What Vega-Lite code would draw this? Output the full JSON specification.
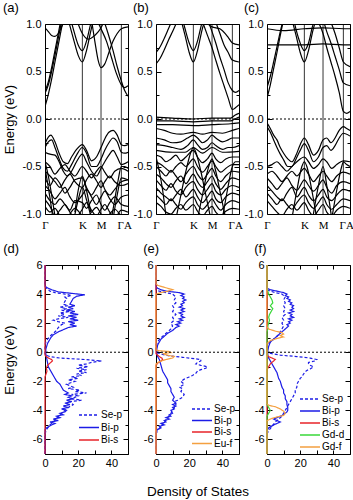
{
"$schema":"https://vega.github.io/schema/vega-lite/v6.json",
"background":"white",
"padding":{"left":2,"top":1,"right":0,"bottom":2},
"config":{
 "font":"Liberation Sans",
 "view":{"stroke":"black","strokeWidth":1},
 "axis":{"grid":false,"domain":false,"labelFont":"Liberation Sans","labelFontSize":11,"labelColor":"black","titleFont":"Liberation Sans","titleFontSize":13,"titleFontWeight":"normal","titleColor":"black","tickColor":"black","labelFlush":false,"labelOverlap":false},
 "title":{"font":"Liberation Sans","fontSize":13,"fontWeight":"normal","anchor":"start","offset":3,"color":"black"},
 "legend":{"title":null,"orient":"none","symbolType":"M-2,0L2,0","symbolSize":100,"symbolStrokeWidth":1.5,"labelFontSize":10,"labelFont":"Liberation Sans","labelColor":"black","rowPadding":1,"padding":0,"labelOffset":6}
},
"datasets":{
"ba":[
{"b":1,"k":0,"e":0.13},{"b":1,"k":0.04,"e":0.26},{"b":1,"k":0.08,"e":0.42},{"b":1,"k":0.12,"e":0.6},{"b":1,"k":0.16,"e":0.78},{"b":1,"k":0.2,"e":0.96},{"b":1,"k":0.24,"e":1.12},
{"b":2,"k":0,"e":0.27},{"b":2,"k":0.04,"e":0.36},{"b":2,"k":0.08,"e":0.5},{"b":2,"k":0.12,"e":0.67},{"b":2,"k":0.16,"e":0.85},{"b":2,"k":0.2,"e":1.03},
{"b":3,"k":0,"e":0.29},{"b":3,"k":0.04,"e":0.39},{"b":3,"k":0.08,"e":0.54},{"b":3,"k":0.12,"e":0.72},{"b":3,"k":0.16,"e":0.9},{"b":3,"k":0.2,"e":1.08},
{"b":4,"k":0,"e":0.96},{"b":4,"k":0.04,"e":0.92},{"b":4,"k":0.08,"e":0.88},{"b":4,"k":0.12,"e":0.87},{"b":4,"k":0.16,"e":0.9},{"b":4,"k":0.2,"e":0.97},{"b":4,"k":0.24,"e":1.06},
{"b":5,"k":0.25,"e":1.15},{"b":5,"k":0.3,"e":0.98},{"b":5,"k":0.35,"e":0.82},{"b":5,"k":0.4,"e":0.67},{"b":5,"k":0.45,"e":0.6},{"b":5,"k":0.5,"e":0.72},{"b":5,"k":0.55,"e":0.92},{"b":5,"k":0.6,"e":1.1},
{"b":6,"k":0.3,"e":1.08},{"b":6,"k":0.35,"e":0.92},{"b":6,"k":0.4,"e":0.78},{"b":6,"k":0.45,"e":0.72},{"b":6,"k":0.5,"e":0.82},{"b":6,"k":0.55,"e":1.0},{"b":6,"k":0.6,"e":1.15},
{"b":7,"k":0.55,"e":1.1},{"b":7,"k":0.6,"e":0.82},{"b":7,"k":0.64,"e":0.62},{"b":7,"k":0.675,"e":0.54},{"b":7,"k":0.72,"e":0.58},{"b":7,"k":0.77,"e":0.7},{"b":7,"k":0.82,"e":0.82},{"b":7,"k":0.87,"e":0.9},{"b":7,"k":0.92,"e":0.95},{"b":7,"k":1,"e":0.97},
{"b":8,"k":0.62,"e":1.05},{"b":8,"k":0.68,"e":0.94},{"b":8,"k":0.74,"e":0.82},{"b":8,"k":0.8,"e":0.65},{"b":8,"k":0.86,"e":0.48},{"b":8,"k":0.92,"e":0.36},{"b":8,"k":0.96,"e":0.33},{"b":8,"k":1,"e":0.35},
{"b":9,"k":0.7,"e":1.06},{"b":9,"k":0.76,"e":0.9},{"b":9,"k":0.82,"e":0.72},{"b":9,"k":0.87,"e":0.55},{"b":9,"k":0.92,"e":0.4},{"b":9,"k":0.96,"e":0.3},{"b":9,"k":1,"e":0.24},
{"b":10,"k":0.36,"e":1.1},{"b":10,"k":0.45,"e":0.9},{"b":10,"k":0.52,"e":0.84},{"b":10,"k":0.6,"e":0.88},{"b":10,"k":0.675,"e":0.96},{"b":10,"k":0.72,"e":1.05},
{"b":20,"k":0,"e":-0.26},{"b":20,"k":0.04,"e":-0.19},{"b":20,"k":0.07,"e":-0.17},{"b":20,"k":0.12,"e":-0.24},{"b":20,"k":0.17,"e":-0.36},{"b":20,"k":0.22,"e":-0.45},{"b":20,"k":0.27,"e":-0.47},{"b":20,"k":0.32,"e":-0.4},{"b":20,"k":0.38,"e":-0.32},{"b":20,"k":0.45,"e":-0.27},{"b":20,"k":0.5,"e":-0.33},{"b":20,"k":0.56,"e":-0.44},{"b":20,"k":0.62,"e":-0.4},{"b":20,"k":0.675,"e":-0.3},{"b":20,"k":0.72,"e":-0.21},{"b":20,"k":0.77,"e":-0.14},{"b":20,"k":0.82,"e":-0.12},{"b":20,"k":0.87,"e":-0.17},{"b":20,"k":0.92,"e":-0.27},{"b":20,"k":0.96,"e":-0.28},{"b":20,"k":1,"e":-0.27},
{"b":21,"k":0,"e":-0.3},{"b":21,"k":0.04,"e":-0.24},{"b":21,"k":0.08,"e":-0.22},{"b":21,"k":0.12,"e":-0.3},{"b":21,"k":0.17,"e":-0.42},{"b":21,"k":0.22,"e":-0.52},{"b":21,"k":0.27,"e":-0.55},{"b":21,"k":0.32,"e":-0.48},{"b":21,"k":0.38,"e":-0.38},{"b":21,"k":0.45,"e":-0.3},{"b":21,"k":0.5,"e":-0.36},{"b":21,"k":0.56,"e":-0.5},{"b":21,"k":0.62,"e":-0.5},{"b":21,"k":0.675,"e":-0.42},{"b":21,"k":0.72,"e":-0.33},{"b":21,"k":0.77,"e":-0.25},{"b":21,"k":0.82,"e":-0.2},{"b":21,"k":0.87,"e":-0.24},{"b":21,"k":0.92,"e":-0.35},{"b":21,"k":0.96,"e":-0.36},{"b":21,"k":1,"e":-0.35},
{"b":22,"k":0,"e":-0.35},{"b":22,"k":0.06,"e":-0.37},{"b":22,"k":0.12,"e":-0.38},{"b":22,"k":0.17,"e":-0.45},{"b":22,"k":0.22,"e":-0.55},{"b":22,"k":0.27,"e":-0.6},{"b":22,"k":0.32,"e":-0.55},{"b":22,"k":0.38,"e":-0.45},{"b":22,"k":0.45,"e":-0.37},{"b":22,"k":0.5,"e":-0.45},{"b":22,"k":0.56,"e":-0.55},{"b":22,"k":0.62,"e":-0.6},{"b":22,"k":0.675,"e":-0.52},{"b":22,"k":0.72,"e":-0.45},{"b":22,"k":0.77,"e":-0.38},{"b":22,"k":0.82,"e":-0.33},{"b":22,"k":0.87,"e":-0.4},{"b":22,"k":0.92,"e":-0.48},{"b":22,"k":1,"e":-0.45},
{"b":31,"k":0,"e":-0.45},{"b":31,"k":0.06,"e":-0.5},{"b":31,"k":0.12,"e":-0.58},{"b":31,"k":0.18,"e":-0.52},{"b":31,"k":0.24,"e":-0.48},{"b":31,"k":0.3,"e":-0.55},{"b":31,"k":0.36,"e":-0.6},{"b":31,"k":0.45,"e":-0.5},{"b":31,"k":0.5,"e":-0.55},{"b":31,"k":0.56,"e":-0.62},{"b":31,"k":0.62,"e":-0.55},{"b":31,"k":0.675,"e":-0.5},{"b":31,"k":0.72,"e":-0.56},{"b":31,"k":0.78,"e":-0.62},{"b":31,"k":0.84,"e":-0.55},{"b":31,"k":0.92,"e":-0.52},{"b":31,"k":1,"e":-0.55},
{"b":32,"k":0,"e":-0.55},{"b":32,"k":0.06,"e":-0.6},{"b":32,"k":0.12,"e":-0.66},{"b":32,"k":0.18,"e":-0.72},{"b":32,"k":0.24,"e":-0.64},{"b":32,"k":0.3,"e":-0.58},{"b":32,"k":0.36,"e":-0.66},{"b":32,"k":0.45,"e":-0.72},{"b":32,"k":0.5,"e":-0.64},{"b":32,"k":0.56,"e":-0.58},{"b":32,"k":0.62,"e":-0.65},{"b":32,"k":0.675,"e":-0.72},{"b":32,"k":0.72,"e":-0.66},{"b":32,"k":0.78,"e":-0.6},{"b":32,"k":0.84,"e":-0.66},{"b":32,"k":0.92,"e":-0.7},{"b":32,"k":1,"e":-0.68},
{"b":33,"k":0,"e":-0.62},{"b":33,"k":0.06,"e":-0.7},{"b":33,"k":0.12,"e":-0.62},{"b":33,"k":0.18,"e":-0.68},{"b":33,"k":0.24,"e":-0.78},{"b":33,"k":0.3,"e":-0.72},{"b":33,"k":0.36,"e":-0.64},{"b":33,"k":0.45,"e":-0.62},{"b":33,"k":0.5,"e":-0.72},{"b":33,"k":0.56,"e":-0.8},{"b":33,"k":0.62,"e":-0.72},{"b":33,"k":0.675,"e":-0.65},{"b":33,"k":0.72,"e":-0.74},{"b":33,"k":0.78,"e":-0.8},{"b":33,"k":0.84,"e":-0.74},{"b":33,"k":0.92,"e":-0.66},{"b":33,"k":1,"e":-0.64},
{"b":34,"k":0,"e":-0.7},{"b":34,"k":0.06,"e":-0.76},{"b":34,"k":0.12,"e":-0.84},{"b":34,"k":0.18,"e":-0.78},{"b":34,"k":0.24,"e":-0.72},{"b":34,"k":0.3,"e":-0.82},{"b":34,"k":0.36,"e":-0.88},{"b":34,"k":0.45,"e":-0.8},{"b":34,"k":0.5,"e":-0.74},{"b":34,"k":0.56,"e":-0.82},{"b":34,"k":0.62,"e":-0.9},{"b":34,"k":0.675,"e":-0.82},{"b":34,"k":0.72,"e":-0.76},{"b":34,"k":0.78,"e":-0.84},{"b":34,"k":0.84,"e":-0.9},{"b":34,"k":0.92,"e":-0.82},{"b":34,"k":1,"e":-0.8},
{"b":35,"k":0,"e":-0.78},{"b":35,"k":0.06,"e":-0.86},{"b":35,"k":0.12,"e":-0.9},{"b":35,"k":0.18,"e":-0.84},{"b":35,"k":0.24,"e":-0.9},{"b":35,"k":0.3,"e":-0.96},{"b":35,"k":0.36,"e":-0.86},{"b":35,"k":0.45,"e":-0.88},{"b":35,"k":0.5,"e":-0.94},{"b":35,"k":0.56,"e":-0.86},{"b":35,"k":0.62,"e":-0.8},{"b":35,"k":0.675,"e":-0.9},{"b":35,"k":0.72,"e":-0.96},{"b":35,"k":0.78,"e":-0.88},{"b":35,"k":0.84,"e":-0.82},{"b":35,"k":0.92,"e":-0.9},{"b":35,"k":1,"e":-0.92},
{"b":36,"k":0,"e":-0.85},{"b":36,"k":0.06,"e":-0.92},{"b":36,"k":0.12,"e":-1.02},{"b":36,"k":0.18,"e":-0.96},{"b":36,"k":0.24,"e":-0.9},{"b":36,"k":0.3,"e":-0.98},{"b":36,"k":0.36,"e":-1.04},{"b":36,"k":0.45,"e":-0.95},{"b":36,"k":0.5,"e":-0.88},{"b":36,"k":0.56,"e":-0.96},{"b":36,"k":0.62,"e":-1.02},{"b":36,"k":0.675,"e":-0.95},{"b":36,"k":0.72,"e":-0.9},{"b":36,"k":0.78,"e":-0.98},{"b":36,"k":0.84,"e":-1.04},{"b":36,"k":0.92,"e":-0.96},{"b":36,"k":1,"e":-0.98},
{"b":37,"k":0,"e":-0.92},{"b":37,"k":0.06,"e":-0.98},{"b":37,"k":0.12,"e":-0.94},{"b":37,"k":0.18,"e":-1.02},{"b":37,"k":0.24,"e":-1.08},{"b":37,"k":0.3,"e":-1.0},{"b":37,"k":0.36,"e":-0.94},{"b":37,"k":0.45,"e":-1.02},{"b":37,"k":0.5,"e":-1.05},{"b":37,"k":0.56,"e":-0.98},{"b":37,"k":0.62,"e":-0.93},{"b":37,"k":0.675,"e":-1.0},{"b":37,"k":0.72,"e":-1.06},{"b":37,"k":0.78,"e":-1.0},{"b":37,"k":0.84,"e":-0.95},{"b":37,"k":0.92,"e":-1.02},{"b":37,"k":1,"e":-1.05},
{"b":38,"k":0,"e":-0.45},{"b":38,"k":0.04,"e":-0.6},{"b":38,"k":0.08,"e":-0.8},{"b":38,"k":0.12,"e":-1.02},
{"b":39,"k":0,"e":-0.52},{"b":39,"k":0.04,"e":-0.72},{"b":39,"k":0.08,"e":-0.95},{"b":39,"k":0.1,"e":-1.08},
{"b":40,"k":0.8,"e":-1.05},{"b":40,"k":0.84,"e":-0.85},{"b":40,"k":0.88,"e":-0.65},{"b":40,"k":0.92,"e":-0.5},{"b":40,"k":0.96,"e":-0.5},{"b":40,"k":1,"e":-0.52},
{"b":41,"k":0.82,"e":-1.05},{"b":41,"k":0.87,"e":-0.8},{"b":41,"k":0.92,"e":-0.62},{"b":41,"k":1,"e":-0.64},
{"b":42,"k":0.36,"e":-0.98},{"b":42,"k":0.4,"e":-0.75},{"b":42,"k":0.45,"e":-0.6},{"b":42,"k":0.5,"e":-0.75},{"b":42,"k":0.55,"e":-0.98},
{"b":43,"k":0.35,"e":-1.05},{"b":43,"k":0.4,"e":-0.85},{"b":43,"k":0.45,"e":-0.72},{"b":43,"k":0.5,"e":-0.85},{"b":43,"k":0.56,"e":-1.05}
],
"bb":[
{"b":1,"k":0,"e":0.58},{"b":1,"k":0.05,"e":0.64},{"b":1,"k":0.1,"e":0.73},{"b":1,"k":0.15,"e":0.83},{"b":1,"k":0.2,"e":0.92},{"b":1,"k":0.25,"e":1.02},
{"b":2,"k":0,"e":0.7},{"b":2,"k":0.05,"e":0.76},{"b":2,"k":0.1,"e":0.85},{"b":2,"k":0.15,"e":0.95},{"b":2,"k":0.2,"e":1.05},
{"b":3,"k":0.3,"e":1.05},{"b":3,"k":0.35,"e":0.88},{"b":3,"k":0.4,"e":0.7},{"b":3,"k":0.45,"e":0.6},{"b":3,"k":0.5,"e":0.72},{"b":3,"k":0.55,"e":0.92},{"b":3,"k":0.6,"e":1.08},
{"b":4,"k":0.3,"e":1.12},{"b":4,"k":0.35,"e":0.95},{"b":4,"k":0.4,"e":0.8},{"b":4,"k":0.45,"e":0.72},{"b":4,"k":0.5,"e":0.82},{"b":4,"k":0.55,"e":1.0},{"b":4,"k":0.6,"e":1.12},
{"b":5,"k":0.55,"e":1.05},{"b":5,"k":0.62,"e":0.88},{"b":5,"k":0.675,"e":0.75},{"b":5,"k":0.72,"e":0.62},{"b":5,"k":0.77,"e":0.48},{"b":5,"k":0.82,"e":0.35},{"b":5,"k":0.87,"e":0.22},{"b":5,"k":0.92,"e":0.1},{"b":5,"k":0.96,"e":0.12},{"b":5,"k":1,"e":0.15},
{"b":6,"k":0.62,"e":1.05},{"b":6,"k":0.675,"e":0.92},{"b":6,"k":0.72,"e":0.8},{"b":6,"k":0.77,"e":0.65},{"b":6,"k":0.82,"e":0.52},{"b":6,"k":0.87,"e":0.38},{"b":6,"k":0.92,"e":0.3},{"b":6,"k":0.96,"e":0.28},{"b":6,"k":1,"e":0.3},
{"b":7,"k":0.72,"e":1.02},{"b":7,"k":0.77,"e":0.9},{"b":7,"k":0.82,"e":0.78},{"b":7,"k":0.87,"e":0.7},{"b":7,"k":0.92,"e":0.62},{"b":7,"k":1,"e":0.6},
{"b":8,"k":0.6,"e":1.02},{"b":8,"k":0.675,"e":0.97},{"b":8,"k":0.77,"e":0.95},{"b":8,"k":0.87,"e":0.86},{"b":8,"k":0.92,"e":0.8},{"b":8,"k":1,"e":0.78},
{"b":10,"k":0,"e":0.02},{"b":10,"k":0.2,"e":0.01},{"b":10,"k":0.45,"e":0.0},{"b":10,"k":0.675,"e":0.01},{"b":10,"k":0.9,"e":0.01},{"b":10,"k":0.95,"e":0.04},{"b":10,"k":1,"e":0.06},
{"b":11,"k":0,"e":-0.02},{"b":11,"k":0.2,"e":-0.02},{"b":11,"k":0.45,"e":-0.03},{"b":11,"k":0.675,"e":-0.02},{"b":11,"k":0.9,"e":-0.02},{"b":11,"k":0.95,"e":0.0},{"b":11,"k":1,"e":0.02},
{"b":12,"k":0,"e":-0.06},{"b":12,"k":0.2,"e":-0.06},{"b":12,"k":0.45,"e":-0.07},{"b":12,"k":0.675,"e":-0.06},{"b":12,"k":0.9,"e":-0.05},{"b":12,"k":1,"e":-0.04},
{"b":13,"k":0,"e":-0.1},{"b":13,"k":0.1,"e":-0.12},{"b":13,"k":0.2,"e":-0.15},{"b":13,"k":0.3,"e":-0.16},{"b":13,"k":0.45,"e":-0.14},{"b":13,"k":0.56,"e":-0.16},{"b":13,"k":0.675,"e":-0.14},{"b":13,"k":0.8,"e":-0.15},{"b":13,"k":0.92,"e":-0.12},{"b":13,"k":1,"e":-0.1},
{"b":14,"k":0,"e":-0.2},{"b":14,"k":0.1,"e":-0.22},{"b":14,"k":0.2,"e":-0.25},{"b":14,"k":0.3,"e":-0.24},{"b":14,"k":0.38,"e":-0.2},{"b":14,"k":0.45,"e":-0.17},{"b":14,"k":0.5,"e":-0.2},{"b":14,"k":0.56,"e":-0.25},{"b":14,"k":0.62,"e":-0.22},{"b":14,"k":0.675,"e":-0.17},{"b":14,"k":0.72,"e":-0.2},{"b":14,"k":0.8,"e":-0.24},{"b":14,"k":0.87,"e":-0.22},{"b":14,"k":0.92,"e":-0.2},{"b":14,"k":1,"e":-0.2},
{"b":15,"k":0,"e":-0.27},{"b":15,"k":0.1,"e":-0.28},{"b":15,"k":0.2,"e":-0.3},{"b":15,"k":0.3,"e":-0.32},{"b":15,"k":0.38,"e":-0.28},{"b":15,"k":0.45,"e":-0.22},{"b":15,"k":0.5,"e":-0.27},{"b":15,"k":0.56,"e":-0.32},{"b":15,"k":0.62,"e":-0.3},{"b":15,"k":0.675,"e":-0.25},{"b":15,"k":0.72,"e":-0.28},{"b":15,"k":0.8,"e":-0.32},{"b":15,"k":0.87,"e":-0.3},{"b":15,"k":0.92,"e":-0.3},{"b":15,"k":1,"e":-0.28},
{"b":16,"k":0,"e":-0.33},{"b":16,"k":0.2,"e":-0.35},{"b":16,"k":0.35,"e":-0.35},{"b":16,"k":0.45,"e":-0.3},{"b":16,"k":0.56,"e":-0.36},{"b":16,"k":0.675,"e":-0.3},{"b":16,"k":0.8,"e":-0.35},{"b":16,"k":1,"e":-0.34},
{"b":31,"k":0,"e":-0.38},{"b":31,"k":0.06,"e":-0.4},{"b":31,"k":0.12,"e":-0.45},{"b":31,"k":0.18,"e":-0.42},{"b":31,"k":0.24,"e":-0.38},{"b":31,"k":0.3,"e":-0.44},{"b":31,"k":0.36,"e":-0.4},{"b":31,"k":0.45,"e":-0.33},{"b":31,"k":0.5,"e":-0.4},{"b":31,"k":0.56,"e":-0.46},{"b":31,"k":0.62,"e":-0.42},{"b":31,"k":0.675,"e":-0.36},{"b":31,"k":0.72,"e":-0.42},{"b":31,"k":0.78,"e":-0.46},{"b":31,"k":0.84,"e":-0.42},{"b":31,"k":0.92,"e":-0.4},{"b":31,"k":1,"e":-0.4},
{"b":32,"k":0,"e":-0.45},{"b":32,"k":0.06,"e":-0.48},{"b":32,"k":0.12,"e":-0.52},{"b":32,"k":0.18,"e":-0.56},{"b":32,"k":0.24,"e":-0.5},{"b":32,"k":0.3,"e":-0.46},{"b":32,"k":0.36,"e":-0.5},{"b":32,"k":0.45,"e":-0.42},{"b":32,"k":0.5,"e":-0.5},{"b":32,"k":0.56,"e":-0.56},{"b":32,"k":0.62,"e":-0.5},{"b":32,"k":0.675,"e":-0.44},{"b":32,"k":0.72,"e":-0.5},{"b":32,"k":0.78,"e":-0.56},{"b":32,"k":0.84,"e":-0.52},{"b":32,"k":0.92,"e":-0.48},{"b":32,"k":1,"e":-0.48},
{"b":33,"k":0,"e":-0.5},{"b":33,"k":0.06,"e":-0.55},{"b":33,"k":0.12,"e":-0.6},{"b":33,"k":0.18,"e":-0.54},{"b":33,"k":0.24,"e":-0.6},{"b":33,"k":0.3,"e":-0.66},{"b":33,"k":0.36,"e":-0.58},{"b":33,"k":0.45,"e":-0.5},{"b":33,"k":0.5,"e":-0.58},{"b":33,"k":0.56,"e":-0.64},{"b":33,"k":0.62,"e":-0.58},{"b":33,"k":0.675,"e":-0.52},{"b":33,"k":0.72,"e":-0.6},{"b":33,"k":0.78,"e":-0.66},{"b":33,"k":0.84,"e":-0.6},{"b":33,"k":0.92,"e":-0.55},{"b":33,"k":1,"e":-0.56},
{"b":34,"k":0,"e":-0.58},{"b":34,"k":0.06,"e":-0.62},{"b":34,"k":0.12,"e":-0.68},{"b":34,"k":0.18,"e":-0.72},{"b":34,"k":0.24,"e":-0.65},{"b":34,"k":0.3,"e":-0.6},{"b":34,"k":0.36,"e":-0.68},{"b":34,"k":0.45,"e":-0.58},{"b":34,"k":0.5,"e":-0.66},{"b":34,"k":0.56,"e":-0.72},{"b":34,"k":0.62,"e":-0.66},{"b":34,"k":0.675,"e":-0.6},{"b":34,"k":0.72,"e":-0.68},{"b":34,"k":0.78,"e":-0.74},{"b":34,"k":0.84,"e":-0.68},{"b":34,"k":0.92,"e":-0.62},{"b":34,"k":1,"e":-0.64},
{"b":35,"k":0,"e":-0.64},{"b":35,"k":0.06,"e":-0.7},{"b":35,"k":0.12,"e":-0.75},{"b":35,"k":0.18,"e":-0.68},{"b":35,"k":0.24,"e":-0.76},{"b":35,"k":0.3,"e":-0.8},{"b":35,"k":0.36,"e":-0.72},{"b":35,"k":0.45,"e":-0.66},{"b":35,"k":0.5,"e":-0.74},{"b":35,"k":0.56,"e":-0.8},{"b":35,"k":0.62,"e":-0.74},{"b":35,"k":0.675,"e":-0.68},{"b":35,"k":0.72,"e":-0.76},{"b":35,"k":0.78,"e":-0.8},{"b":35,"k":0.84,"e":-0.74},{"b":35,"k":0.92,"e":-0.7},{"b":35,"k":1,"e":-0.72},
{"b":36,"k":0,"e":-0.72},{"b":36,"k":0.06,"e":-0.78},{"b":36,"k":0.12,"e":-0.82},{"b":36,"k":0.18,"e":-0.86},{"b":36,"k":0.24,"e":-0.8},{"b":36,"k":0.3,"e":-0.74},{"b":36,"k":0.36,"e":-0.82},{"b":36,"k":0.45,"e":-0.74},{"b":36,"k":0.5,"e":-0.82},{"b":36,"k":0.56,"e":-0.88},{"b":36,"k":0.62,"e":-0.82},{"b":36,"k":0.675,"e":-0.76},{"b":36,"k":0.72,"e":-0.84},{"b":36,"k":0.78,"e":-0.88},{"b":36,"k":0.84,"e":-0.82},{"b":36,"k":0.92,"e":-0.78},{"b":36,"k":1,"e":-0.8},
{"b":37,"k":0,"e":-0.8},{"b":37,"k":0.06,"e":-0.85},{"b":37,"k":0.12,"e":-0.9},{"b":37,"k":0.18,"e":-0.84},{"b":37,"k":0.24,"e":-0.9},{"b":37,"k":0.3,"e":-0.95},{"b":37,"k":0.36,"e":-0.88},{"b":37,"k":0.45,"e":-0.82},{"b":37,"k":0.5,"e":-0.9},{"b":37,"k":0.56,"e":-0.95},{"b":37,"k":0.62,"e":-0.9},{"b":37,"k":0.675,"e":-0.84},{"b":37,"k":0.72,"e":-0.9},{"b":37,"k":0.78,"e":-0.96},{"b":37,"k":0.84,"e":-0.9},{"b":37,"k":0.92,"e":-0.86},{"b":37,"k":1,"e":-0.88},
{"b":38,"k":0,"e":-0.88},{"b":38,"k":0.06,"e":-0.92},{"b":38,"k":0.12,"e":-0.98},{"b":38,"k":0.18,"e":-1.0},{"b":38,"k":0.24,"e":-0.94},{"b":38,"k":0.3,"e":-0.9},{"b":38,"k":0.36,"e":-0.96},{"b":38,"k":0.45,"e":-0.9},{"b":38,"k":0.5,"e":-0.97},{"b":38,"k":0.56,"e":-1.02},{"b":38,"k":0.62,"e":-0.96},{"b":38,"k":0.675,"e":-0.92},{"b":38,"k":0.72,"e":-0.98},{"b":38,"k":0.78,"e":-1.02},{"b":38,"k":0.84,"e":-0.97},{"b":38,"k":0.92,"e":-0.94},{"b":38,"k":1,"e":-0.95},
{"b":40,"k":0.24,"e":-1.05},{"b":40,"k":0.3,"e":-0.8},{"b":40,"k":0.36,"e":-0.55},{"b":40,"k":0.42,"e":-0.35},{"b":40,"k":0.45,"e":-0.3},{"b":40,"k":0.48,"e":-0.35},{"b":40,"k":0.54,"e":-0.55},{"b":40,"k":0.6,"e":-0.8},{"b":40,"k":0.66,"e":-1.05},
{"b":41,"k":0.5,"e":-1.05},{"b":41,"k":0.56,"e":-0.8},{"b":41,"k":0.62,"e":-0.55},{"b":41,"k":0.675,"e":-0.42},{"b":41,"k":0.72,"e":-0.55},{"b":41,"k":0.78,"e":-0.8},{"b":41,"k":0.84,"e":-1.05},
{"b":42,"k":0,"e":-0.4},{"b":42,"k":0.04,"e":-0.55},{"b":42,"k":0.08,"e":-0.75},{"b":42,"k":0.12,"e":-1.02},
{"b":43,"k":0.8,"e":-1.05},{"b":43,"k":0.86,"e":-0.75},{"b":43,"k":0.92,"e":-0.5},{"b":43,"k":0.96,"e":-0.45},{"b":43,"k":1,"e":-0.45}
],
"bc":[
{"b":1,"k":0,"e":0.33},{"b":1,"k":0.04,"e":0.45},{"b":1,"k":0.08,"e":0.6},{"b":1,"k":0.12,"e":0.76},{"b":1,"k":0.16,"e":0.92},{"b":1,"k":0.2,"e":1.06},
{"b":2,"k":0,"e":0.22},{"b":2,"k":0.04,"e":0.36},{"b":2,"k":0.08,"e":0.53},{"b":2,"k":0.12,"e":0.7},{"b":2,"k":0.16,"e":0.88},{"b":2,"k":0.2,"e":1.05},
{"b":3,"k":0,"e":0.78},{"b":3,"k":0.2,"e":0.78},{"b":3,"k":0.45,"e":0.78},{"b":3,"k":0.675,"e":0.79},{"b":3,"k":0.92,"e":0.78},{"b":3,"k":1,"e":0.78},
{"b":4,"k":0,"e":0.95},{"b":4,"k":0.2,"e":0.93},{"b":4,"k":0.45,"e":0.95},{"b":4,"k":0.675,"e":0.96},{"b":4,"k":0.92,"e":0.95},{"b":4,"k":1,"e":0.95},
{"b":5,"k":0.3,"e":1.05},{"b":5,"k":0.35,"e":0.88},{"b":5,"k":0.4,"e":0.7},{"b":5,"k":0.45,"e":0.6},{"b":5,"k":0.5,"e":0.72},{"b":5,"k":0.55,"e":0.92},{"b":5,"k":0.6,"e":1.08},
{"b":6,"k":0.32,"e":1.05},{"b":6,"k":0.38,"e":0.85},{"b":6,"k":0.45,"e":0.72},{"b":6,"k":0.5,"e":0.8},{"b":6,"k":0.55,"e":0.98},{"b":6,"k":0.6,"e":1.1},
{"b":7,"k":0.6,"e":1.05},{"b":7,"k":0.675,"e":0.9},{"b":7,"k":0.72,"e":0.75},{"b":7,"k":0.77,"e":0.6},{"b":7,"k":0.82,"e":0.45},{"b":7,"k":0.87,"e":0.28},{"b":7,"k":0.92,"e":0.08},{"b":7,"k":0.96,"e":0.06},{"b":7,"k":1,"e":0.08},
{"b":8,"k":0.675,"e":1.05},{"b":8,"k":0.72,"e":0.92},{"b":8,"k":0.77,"e":0.8},{"b":8,"k":0.82,"e":0.66},{"b":8,"k":0.87,"e":0.52},{"b":8,"k":0.92,"e":0.38},{"b":8,"k":1,"e":0.35},
{"b":9,"k":0.77,"e":1.02},{"b":9,"k":0.82,"e":0.9},{"b":9,"k":0.87,"e":0.75},{"b":9,"k":0.92,"e":0.6},{"b":9,"k":1,"e":0.55},
{"b":20,"k":0,"e":-0.04},{"b":20,"k":0.04,"e":-0.1},{"b":20,"k":0.08,"e":-0.17},{"b":20,"k":0.12,"e":-0.22},{"b":20,"k":0.16,"e":-0.3},{"b":20,"k":0.2,"e":-0.36},{"b":20,"k":0.25,"e":-0.42},{"b":20,"k":0.3,"e":-0.45},{"b":20,"k":0.35,"e":-0.38},{"b":20,"k":0.4,"e":-0.27},{"b":20,"k":0.45,"e":-0.2},{"b":20,"k":0.5,"e":-0.27},{"b":20,"k":0.56,"e":-0.38},{"b":20,"k":0.62,"e":-0.33},{"b":20,"k":0.675,"e":-0.22},{"b":20,"k":0.72,"e":-0.2},{"b":20,"k":0.77,"e":-0.25},{"b":20,"k":0.82,"e":-0.2},{"b":20,"k":0.87,"e":-0.12},{"b":20,"k":0.92,"e":-0.08},{"b":20,"k":0.96,"e":-0.1},{"b":20,"k":1,"e":-0.12},
{"b":21,"k":0,"e":-0.08},{"b":21,"k":0.04,"e":-0.14},{"b":21,"k":0.08,"e":-0.22},{"b":21,"k":0.12,"e":-0.3},{"b":21,"k":0.16,"e":-0.37},{"b":21,"k":0.2,"e":-0.43},{"b":21,"k":0.25,"e":-0.5},{"b":21,"k":0.3,"e":-0.5},{"b":21,"k":0.35,"e":-0.42},{"b":21,"k":0.4,"e":-0.33},{"b":21,"k":0.45,"e":-0.26},{"b":21,"k":0.5,"e":-0.33},{"b":21,"k":0.56,"e":-0.45},{"b":21,"k":0.62,"e":-0.4},{"b":21,"k":0.675,"e":-0.3},{"b":21,"k":0.72,"e":-0.28},{"b":21,"k":0.77,"e":-0.33},{"b":21,"k":0.82,"e":-0.28},{"b":21,"k":0.87,"e":-0.2},{"b":21,"k":0.92,"e":-0.15},{"b":21,"k":1,"e":-0.18},
{"b":31,"k":0,"e":-0.5},{"b":31,"k":0.06,"e":-0.48},{"b":31,"k":0.12,"e":-0.45},{"b":31,"k":0.18,"e":-0.5},{"b":31,"k":0.24,"e":-0.55},{"b":31,"k":0.3,"e":-0.5},{"b":31,"k":0.36,"e":-0.45},{"b":31,"k":0.45,"e":-0.4},{"b":31,"k":0.5,"e":-0.45},{"b":31,"k":0.56,"e":-0.52},{"b":31,"k":0.62,"e":-0.48},{"b":31,"k":0.675,"e":-0.42},{"b":31,"k":0.72,"e":-0.45},{"b":31,"k":0.78,"e":-0.52},{"b":31,"k":0.84,"e":-0.48},{"b":31,"k":0.92,"e":-0.44},{"b":31,"k":1,"e":-0.45},
{"b":32,"k":0,"e":-0.58},{"b":32,"k":0.06,"e":-0.55},{"b":32,"k":0.12,"e":-0.6},{"b":32,"k":0.18,"e":-0.66},{"b":32,"k":0.24,"e":-0.6},{"b":32,"k":0.3,"e":-0.55},{"b":32,"k":0.36,"e":-0.6},{"b":32,"k":0.45,"e":-0.52},{"b":32,"k":0.5,"e":-0.58},{"b":32,"k":0.56,"e":-0.66},{"b":32,"k":0.62,"e":-0.6},{"b":32,"k":0.675,"e":-0.55},{"b":32,"k":0.72,"e":-0.6},{"b":32,"k":0.78,"e":-0.66},{"b":32,"k":0.84,"e":-0.6},{"b":32,"k":0.92,"e":-0.56},{"b":32,"k":1,"e":-0.58},
{"b":33,"k":0,"e":-0.62},{"b":33,"k":0.06,"e":-0.68},{"b":33,"k":0.12,"e":-0.74},{"b":33,"k":0.18,"e":-0.68},{"b":33,"k":0.24,"e":-0.62},{"b":33,"k":0.3,"e":-0.7},{"b":33,"k":0.36,"e":-0.75},{"b":33,"k":0.45,"e":-0.64},{"b":33,"k":0.5,"e":-0.7},{"b":33,"k":0.56,"e":-0.76},{"b":33,"k":0.62,"e":-0.7},{"b":33,"k":0.675,"e":-0.64},{"b":33,"k":0.72,"e":-0.72},{"b":33,"k":0.78,"e":-0.78},{"b":33,"k":0.84,"e":-0.7},{"b":33,"k":0.92,"e":-0.66},{"b":33,"k":1,"e":-0.68},
{"b":34,"k":0,"e":-0.7},{"b":34,"k":0.06,"e":-0.76},{"b":34,"k":0.12,"e":-0.82},{"b":34,"k":0.18,"e":-0.86},{"b":34,"k":0.24,"e":-0.78},{"b":34,"k":0.3,"e":-0.72},{"b":34,"k":0.36,"e":-0.82},{"b":34,"k":0.45,"e":-0.72},{"b":34,"k":0.5,"e":-0.8},{"b":34,"k":0.56,"e":-0.86},{"b":34,"k":0.62,"e":-0.8},{"b":34,"k":0.675,"e":-0.74},{"b":34,"k":0.72,"e":-0.82},{"b":34,"k":0.78,"e":-0.86},{"b":34,"k":0.84,"e":-0.8},{"b":34,"k":0.92,"e":-0.74},{"b":34,"k":1,"e":-0.76},
{"b":35,"k":0,"e":-0.78},{"b":35,"k":0.06,"e":-0.84},{"b":35,"k":0.12,"e":-0.9},{"b":35,"k":0.18,"e":-0.84},{"b":35,"k":0.24,"e":-0.9},{"b":35,"k":0.3,"e":-0.95},{"b":35,"k":0.36,"e":-0.88},{"b":35,"k":0.45,"e":-0.8},{"b":35,"k":0.5,"e":-0.88},{"b":35,"k":0.56,"e":-0.94},{"b":35,"k":0.62,"e":-0.88},{"b":35,"k":0.675,"e":-0.82},{"b":35,"k":0.72,"e":-0.9},{"b":35,"k":0.78,"e":-0.95},{"b":35,"k":0.84,"e":-0.9},{"b":35,"k":0.92,"e":-0.84},{"b":35,"k":1,"e":-0.86},
{"b":36,"k":0,"e":-0.86},{"b":36,"k":0.06,"e":-0.92},{"b":36,"k":0.12,"e":-0.98},{"b":36,"k":0.18,"e":-1.02},{"b":36,"k":0.24,"e":-0.95},{"b":36,"k":0.3,"e":-0.9},{"b":36,"k":0.36,"e":-0.96},{"b":36,"k":0.45,"e":-0.88},{"b":36,"k":0.5,"e":-0.96},{"b":36,"k":0.56,"e":-1.02},{"b":36,"k":0.62,"e":-0.96},{"b":36,"k":0.675,"e":-0.9},{"b":36,"k":0.72,"e":-0.98},{"b":36,"k":0.78,"e":-1.02},{"b":36,"k":0.84,"e":-0.96},{"b":36,"k":0.92,"e":-0.92},{"b":36,"k":1,"e":-0.94},
{"b":37,"k":0.3,"e":-1.05},{"b":37,"k":0.36,"e":-0.75},{"b":37,"k":0.42,"e":-0.5},{"b":37,"k":0.45,"e":-0.45},{"b":37,"k":0.48,"e":-0.5},{"b":37,"k":0.54,"e":-0.75},{"b":37,"k":0.6,"e":-1.05},
{"b":38,"k":0.55,"e":-1.05},{"b":38,"k":0.62,"e":-0.7},{"b":38,"k":0.675,"e":-0.5},{"b":38,"k":0.72,"e":-0.7},{"b":38,"k":0.78,"e":-1.05},
{"b":39,"k":0.78,"e":-1.05},{"b":39,"k":0.84,"e":-0.75},{"b":39,"k":0.9,"e":-0.5},{"b":39,"k":0.92,"e":-0.45},{"b":39,"k":0.96,"e":-0.48},{"b":39,"k":1,"e":-0.5}
],
"dd":[
{"s":"Se-p","e":-7,"d":0},{"s":"Se-p","e":-5.6,"d":0},{"s":"Se-p","e":-5.3,"d":1},{"s":"Se-p","e":-5.0,"d":3},{"s":"Se-p","e":-4.7,"d":6},{"s":"Se-p","e":-4.4,"d":8},{"s":"Se-p","e":-4.2,"d":10},{"s":"Se-p","e":-4.0,"d":12},{"s":"Se-p","e":-3.8,"d":14},{"s":"Se-p","e":-3.6,"d":17},{"s":"Se-p","e":-3.4,"d":15},{"s":"Se-p","e":-3.3,"d":22},{"s":"Se-p","e":-3.2,"d":16},{"s":"Se-p","e":-3.0,"d":20},{"s":"Se-p","e":-2.9,"d":16},{"s":"Se-p","e":-2.8,"d":25},{"s":"Se-p","e":-2.7,"d":18},{"s":"Se-p","e":-2.6,"d":21},{"s":"Se-p","e":-2.5,"d":14},{"s":"Se-p","e":-2.4,"d":17},{"s":"Se-p","e":-2.2,"d":13},{"s":"Se-p","e":-2.0,"d":18},{"s":"Se-p","e":-1.9,"d":14},{"s":"Se-p","e":-1.8,"d":20},{"s":"Se-p","e":-1.7,"d":16},{"s":"Se-p","e":-1.6,"d":22},{"s":"Se-p","e":-1.5,"d":19},{"s":"Se-p","e":-1.4,"d":25},{"s":"Se-p","e":-1.3,"d":20},{"s":"Se-p","e":-1.2,"d":25},{"s":"Se-p","e":-1.1,"d":19},{"s":"Se-p","e":-1.0,"d":26},{"s":"Se-p","e":-0.9,"d":20},{"s":"Se-p","e":-0.8,"d":25},{"s":"Se-p","e":-0.7,"d":28},{"s":"Se-p","e":-0.6,"d":34},{"s":"Se-p","e":-0.5,"d":24},{"s":"Se-p","e":-0.4,"d":9},{"s":"Se-p","e":-0.3,"d":3},{"s":"Se-p","e":-0.2,"d":0.5},{"s":"Se-p","e":-0.1,"d":0},{"s":"Se-p","e":0.5,"d":0},{"s":"Se-p","e":0.7,"d":0.5},{"s":"Se-p","e":0.9,"d":1.5},{"s":"Se-p","e":1.1,"d":3},{"s":"Se-p","e":1.3,"d":5},{"s":"Se-p","e":1.5,"d":7},{"s":"Se-p","e":1.7,"d":8},{"s":"Se-p","e":1.9,"d":10},{"s":"Se-p","e":2.0,"d":12},{"s":"Se-p","e":2.1,"d":8},{"s":"Se-p","e":2.2,"d":5},{"s":"Se-p","e":2.3,"d":8},{"s":"Se-p","e":2.4,"d":14},{"s":"Se-p","e":2.5,"d":8},{"s":"Se-p","e":2.6,"d":12},{"s":"Se-p","e":2.7,"d":9},{"s":"Se-p","e":2.8,"d":15},{"s":"Se-p","e":2.9,"d":10},{"s":"Se-p","e":3.0,"d":13},{"s":"Se-p","e":3.1,"d":9},{"s":"Se-p","e":3.2,"d":14},{"s":"Se-p","e":3.3,"d":11},{"s":"Se-p","e":3.5,"d":12},{"s":"Se-p","e":3.7,"d":13},{"s":"Se-p","e":3.8,"d":12},{"s":"Se-p","e":3.9,"d":16},{"s":"Se-p","e":4.0,"d":12},{"s":"Se-p","e":4.1,"d":6},{"s":"Se-p","e":4.2,"d":3},{"s":"Se-p","e":4.4,"d":1},{"s":"Se-p","e":4.5,"d":0},{"s":"Se-p","e":6,"d":0},
{"s":"Bi-p","e":-7,"d":0},{"s":"Bi-p","e":-5.3,"d":0},{"s":"Bi-p","e":-5.2,"d":1},{"s":"Bi-p","e":-5.0,"d":4},{"s":"Bi-p","e":-4.9,"d":6},{"s":"Bi-p","e":-4.8,"d":3},{"s":"Bi-p","e":-4.7,"d":8},{"s":"Bi-p","e":-4.6,"d":5},{"s":"Bi-p","e":-4.5,"d":9},{"s":"Bi-p","e":-4.4,"d":7},{"s":"Bi-p","e":-4.3,"d":11},{"s":"Bi-p","e":-4.2,"d":9},{"s":"Bi-p","e":-4.1,"d":12},{"s":"Bi-p","e":-4.0,"d":13},{"s":"Bi-p","e":-3.9,"d":10},{"s":"Bi-p","e":-3.8,"d":14},{"s":"Bi-p","e":-3.7,"d":11},{"s":"Bi-p","e":-3.6,"d":15},{"s":"Bi-p","e":-3.5,"d":12},{"s":"Bi-p","e":-3.4,"d":16},{"s":"Bi-p","e":-3.3,"d":13},{"s":"Bi-p","e":-3.2,"d":17},{"s":"Bi-p","e":-3.1,"d":14},{"s":"Bi-p","e":-3.0,"d":16},{"s":"Bi-p","e":-2.9,"d":12},{"s":"Bi-p","e":-2.8,"d":14},{"s":"Bi-p","e":-2.6,"d":11},{"s":"Bi-p","e":-2.4,"d":10},{"s":"Bi-p","e":-2.2,"d":9},{"s":"Bi-p","e":-2.0,"d":7},{"s":"Bi-p","e":-1.8,"d":6},{"s":"Bi-p","e":-1.6,"d":5},{"s":"Bi-p","e":-1.4,"d":4},{"s":"Bi-p","e":-1.2,"d":3},{"s":"Bi-p","e":-1.0,"d":2},{"s":"Bi-p","e":-0.7,"d":1.5},{"s":"Bi-p","e":-0.4,"d":1},{"s":"Bi-p","e":-0.1,"d":0.5},{"s":"Bi-p","e":0.2,"d":0.5},{"s":"Bi-p","e":0.4,"d":1},{"s":"Bi-p","e":0.6,"d":1.5},{"s":"Bi-p","e":0.8,"d":2.5},{"s":"Bi-p","e":1.0,"d":3.5},{"s":"Bi-p","e":1.2,"d":5},{"s":"Bi-p","e":1.4,"d":8},{"s":"Bi-p","e":1.6,"d":12},{"s":"Bi-p","e":1.7,"d":14},{"s":"Bi-p","e":1.8,"d":19},{"s":"Bi-p","e":1.9,"d":15},{"s":"Bi-p","e":2.0,"d":18},{"s":"Bi-p","e":2.1,"d":14},{"s":"Bi-p","e":2.2,"d":20},{"s":"Bi-p","e":2.3,"d":15},{"s":"Bi-p","e":2.4,"d":19},{"s":"Bi-p","e":2.5,"d":14},{"s":"Bi-p","e":2.6,"d":20},{"s":"Bi-p","e":2.7,"d":15},{"s":"Bi-p","e":2.8,"d":18},{"s":"Bi-p","e":2.9,"d":13},{"s":"Bi-p","e":3.0,"d":17},{"s":"Bi-p","e":3.1,"d":14},{"s":"Bi-p","e":3.2,"d":18},{"s":"Bi-p","e":3.3,"d":15},{"s":"Bi-p","e":3.5,"d":16},{"s":"Bi-p","e":3.7,"d":17},{"s":"Bi-p","e":3.85,"d":19},{"s":"Bi-p","e":3.95,"d":24},{"s":"Bi-p","e":4.05,"d":16},{"s":"Bi-p","e":4.15,"d":8},{"s":"Bi-p","e":4.3,"d":4},{"s":"Bi-p","e":4.45,"d":1},{"s":"Bi-p","e":4.55,"d":0},{"s":"Bi-p","e":6,"d":0},
{"s":"Bi-s","e":-7,"d":0},{"s":"Bi-s","e":-1.7,"d":0},{"s":"Bi-s","e":-1.5,"d":0.6},{"s":"Bi-s","e":-1.3,"d":1.2},{"s":"Bi-s","e":-1.1,"d":0.8},{"s":"Bi-s","e":-0.9,"d":1.5},{"s":"Bi-s","e":-0.8,"d":2.5},{"s":"Bi-s","e":-0.7,"d":3.5},{"s":"Bi-s","e":-0.6,"d":4.5},{"s":"Bi-s","e":-0.5,"d":4},{"s":"Bi-s","e":-0.4,"d":2},{"s":"Bi-s","e":-0.3,"d":0.8},{"s":"Bi-s","e":-0.2,"d":0},{"s":"Bi-s","e":6,"d":0}
],
"de":[
{"s":"Se-p","e":-7,"d":0},{"s":"Se-p","e":-5.6,"d":0},{"s":"Se-p","e":-5.4,"d":1},{"s":"Se-p","e":-5.1,"d":3},{"s":"Se-p","e":-4.8,"d":5},{"s":"Se-p","e":-4.5,"d":7},{"s":"Se-p","e":-4.2,"d":9},{"s":"Se-p","e":-4.0,"d":10},{"s":"Se-p","e":-3.8,"d":11},{"s":"Se-p","e":-3.6,"d":12},{"s":"Se-p","e":-3.4,"d":11},{"s":"Se-p","e":-3.3,"d":13},{"s":"Se-p","e":-3.1,"d":16},{"s":"Se-p","e":-2.9,"d":17},{"s":"Se-p","e":-2.7,"d":15},{"s":"Se-p","e":-2.5,"d":16},{"s":"Se-p","e":-2.4,"d":14},{"s":"Se-p","e":-2.2,"d":17},{"s":"Se-p","e":-2.0,"d":15},{"s":"Se-p","e":-1.85,"d":17},{"s":"Se-p","e":-1.7,"d":20},{"s":"Se-p","e":-1.6,"d":22},{"s":"Se-p","e":-1.45,"d":24},{"s":"Se-p","e":-1.3,"d":25},{"s":"Se-p","e":-1.2,"d":27},{"s":"Se-p","e":-1.1,"d":30},{"s":"Se-p","e":-1.0,"d":31},{"s":"Se-p","e":-0.9,"d":27},{"s":"Se-p","e":-0.8,"d":24},{"s":"Se-p","e":-0.7,"d":25},{"s":"Se-p","e":-0.6,"d":27},{"s":"Se-p","e":-0.5,"d":27},{"s":"Se-p","e":-0.4,"d":20},{"s":"Se-p","e":-0.35,"d":16},{"s":"Se-p","e":-0.25,"d":8},{"s":"Se-p","e":-0.15,"d":4},{"s":"Se-p","e":-0.05,"d":1},{"s":"Se-p","e":0.1,"d":0},{"s":"Se-p","e":0.5,"d":0},{"s":"Se-p","e":0.8,"d":1.5},{"s":"Se-p","e":1.0,"d":3},{"s":"Se-p","e":1.2,"d":5},{"s":"Se-p","e":1.4,"d":7},{"s":"Se-p","e":1.6,"d":9},{"s":"Se-p","e":1.8,"d":10},{"s":"Se-p","e":2.0,"d":9},{"s":"Se-p","e":2.2,"d":11},{"s":"Se-p","e":2.4,"d":10},{"s":"Se-p","e":2.6,"d":12},{"s":"Se-p","e":2.8,"d":10},{"s":"Se-p","e":3.0,"d":11},{"s":"Se-p","e":3.2,"d":10},{"s":"Se-p","e":3.4,"d":12},{"s":"Se-p","e":3.6,"d":11},{"s":"Se-p","e":3.8,"d":12},{"s":"Se-p","e":4.0,"d":10},{"s":"Se-p","e":4.1,"d":6},{"s":"Se-p","e":4.2,"d":2},{"s":"Se-p","e":4.3,"d":0},{"s":"Se-p","e":6,"d":0},
{"s":"Bi-p","e":-7,"d":0},{"s":"Bi-p","e":-5.5,"d":0},{"s":"Bi-p","e":-5.3,"d":1},{"s":"Bi-p","e":-5.2,"d":3},{"s":"Bi-p","e":-5.1,"d":2},{"s":"Bi-p","e":-5.0,"d":5},{"s":"Bi-p","e":-4.9,"d":3},{"s":"Bi-p","e":-4.8,"d":6},{"s":"Bi-p","e":-4.7,"d":5},{"s":"Bi-p","e":-4.6,"d":8},{"s":"Bi-p","e":-4.5,"d":6},{"s":"Bi-p","e":-4.4,"d":9},{"s":"Bi-p","e":-4.3,"d":8},{"s":"Bi-p","e":-4.2,"d":10},{"s":"Bi-p","e":-4.0,"d":9},{"s":"Bi-p","e":-3.9,"d":11},{"s":"Bi-p","e":-3.8,"d":10},{"s":"Bi-p","e":-3.7,"d":12},{"s":"Bi-p","e":-3.6,"d":10},{"s":"Bi-p","e":-3.5,"d":12},{"s":"Bi-p","e":-3.4,"d":11},{"s":"Bi-p","e":-3.3,"d":10},{"s":"Bi-p","e":-3.1,"d":11},{"s":"Bi-p","e":-2.9,"d":10},{"s":"Bi-p","e":-2.7,"d":9},{"s":"Bi-p","e":-2.5,"d":9},{"s":"Bi-p","e":-2.3,"d":8},{"s":"Bi-p","e":-2.1,"d":7},{"s":"Bi-p","e":-1.9,"d":7},{"s":"Bi-p","e":-1.7,"d":6},{"s":"Bi-p","e":-1.5,"d":5},{"s":"Bi-p","e":-1.3,"d":4},{"s":"Bi-p","e":-1.1,"d":3.5},{"s":"Bi-p","e":-0.9,"d":3},{"s":"Bi-p","e":-0.7,"d":2.5},{"s":"Bi-p","e":-0.5,"d":2},{"s":"Bi-p","e":-0.3,"d":1},{"s":"Bi-p","e":-0.1,"d":0.5},{"s":"Bi-p","e":0.2,"d":0.5},{"s":"Bi-p","e":0.5,"d":1},{"s":"Bi-p","e":0.7,"d":2},{"s":"Bi-p","e":0.9,"d":3},{"s":"Bi-p","e":1.1,"d":5},{"s":"Bi-p","e":1.3,"d":7},{"s":"Bi-p","e":1.5,"d":10},{"s":"Bi-p","e":1.7,"d":12},{"s":"Bi-p","e":1.8,"d":14},{"s":"Bi-p","e":1.9,"d":12},{"s":"Bi-p","e":2.0,"d":15},{"s":"Bi-p","e":2.1,"d":13},{"s":"Bi-p","e":2.2,"d":16},{"s":"Bi-p","e":2.3,"d":14},{"s":"Bi-p","e":2.4,"d":17},{"s":"Bi-p","e":2.5,"d":15},{"s":"Bi-p","e":2.6,"d":16},{"s":"Bi-p","e":2.7,"d":14},{"s":"Bi-p","e":2.8,"d":17},{"s":"Bi-p","e":2.9,"d":15},{"s":"Bi-p","e":3.0,"d":17},{"s":"Bi-p","e":3.1,"d":14},{"s":"Bi-p","e":3.2,"d":16},{"s":"Bi-p","e":3.3,"d":15},{"s":"Bi-p","e":3.4,"d":17},{"s":"Bi-p","e":3.5,"d":16},{"s":"Bi-p","e":3.6,"d":18},{"s":"Bi-p","e":3.7,"d":16},{"s":"Bi-p","e":3.8,"d":17},{"s":"Bi-p","e":3.9,"d":15},{"s":"Bi-p","e":4.0,"d":17},{"s":"Bi-p","e":4.1,"d":14},{"s":"Bi-p","e":4.2,"d":6},{"s":"Bi-p","e":4.3,"d":3},{"s":"Bi-p","e":4.4,"d":1},{"s":"Bi-p","e":4.5,"d":0},{"s":"Bi-p","e":6,"d":0},
{"s":"Bi-s","e":-7,"d":0},{"s":"Bi-s","e":-0.9,"d":0},{"s":"Bi-s","e":-0.75,"d":1},{"s":"Bi-s","e":-0.6,"d":3},{"s":"Bi-s","e":-0.5,"d":4},{"s":"Bi-s","e":-0.4,"d":3.5},{"s":"Bi-s","e":-0.3,"d":2},{"s":"Bi-s","e":-0.2,"d":1},{"s":"Bi-s","e":-0.1,"d":0},{"s":"Bi-s","e":6,"d":0},
{"s":"Eu-f","e":-7,"d":0},{"s":"Eu-f","e":-0.8,"d":0},{"s":"Eu-f","e":-0.65,"d":2},{"s":"Eu-f","e":-0.5,"d":6},{"s":"Eu-f","e":-0.4,"d":10},{"s":"Eu-f","e":-0.3,"d":11},{"s":"Eu-f","e":-0.2,"d":7},{"s":"Eu-f","e":-0.1,"d":4},{"s":"Eu-f","e":-0.02,"d":9},{"s":"Eu-f","e":0.05,"d":8},{"s":"Eu-f","e":0.1,"d":2},{"s":"Eu-f","e":0.15,"d":0},{"s":"Eu-f","e":4.0,"d":0},{"s":"Eu-f","e":4.1,"d":3},{"s":"Eu-f","e":4.2,"d":7},{"s":"Eu-f","e":4.3,"d":10},{"s":"Eu-f","e":4.4,"d":7},{"s":"Eu-f","e":4.5,"d":4},{"s":"Eu-f","e":4.6,"d":1},{"s":"Eu-f","e":4.7,"d":0},{"s":"Eu-f","e":6,"d":0}
],
"df":[
{"s":"Se-p","e":-7,"d":0},{"s":"Se-p","e":-5.6,"d":0},{"s":"Se-p","e":-5.4,"d":1},{"s":"Se-p","e":-5.1,"d":3},{"s":"Se-p","e":-4.8,"d":5},{"s":"Se-p","e":-4.6,"d":7},{"s":"Se-p","e":-4.4,"d":9},{"s":"Se-p","e":-4.2,"d":10},{"s":"Se-p","e":-4.0,"d":11},{"s":"Se-p","e":-3.8,"d":12},{"s":"Se-p","e":-3.6,"d":13},{"s":"Se-p","e":-3.4,"d":14},{"s":"Se-p","e":-3.2,"d":15},{"s":"Se-p","e":-3.0,"d":16},{"s":"Se-p","e":-2.8,"d":17},{"s":"Se-p","e":-2.6,"d":17},{"s":"Se-p","e":-2.4,"d":18},{"s":"Se-p","e":-2.2,"d":18},{"s":"Se-p","e":-2.0,"d":19},{"s":"Se-p","e":-1.8,"d":20},{"s":"Se-p","e":-1.7,"d":21},{"s":"Se-p","e":-1.5,"d":22},{"s":"Se-p","e":-1.35,"d":23},{"s":"Se-p","e":-1.25,"d":24},{"s":"Se-p","e":-1.15,"d":26},{"s":"Se-p","e":-1.0,"d":28},{"s":"Se-p","e":-0.9,"d":26},{"s":"Se-p","e":-0.8,"d":25},{"s":"Se-p","e":-0.7,"d":25},{"s":"Se-p","e":-0.6,"d":29},{"s":"Se-p","e":-0.5,"d":30},{"s":"Se-p","e":-0.4,"d":26},{"s":"Se-p","e":-0.3,"d":18},{"s":"Se-p","e":-0.2,"d":8},{"s":"Se-p","e":-0.1,"d":3},{"s":"Se-p","e":0,"d":0},{"s":"Se-p","e":0.4,"d":0},{"s":"Se-p","e":0.6,"d":1},{"s":"Se-p","e":0.8,"d":3},{"s":"Se-p","e":1.0,"d":5},{"s":"Se-p","e":1.2,"d":7},{"s":"Se-p","e":1.4,"d":8},{"s":"Se-p","e":1.6,"d":9},{"s":"Se-p","e":1.8,"d":10},{"s":"Se-p","e":2.0,"d":9},{"s":"Se-p","e":2.2,"d":10},{"s":"Se-p","e":2.4,"d":9},{"s":"Se-p","e":2.6,"d":11},{"s":"Se-p","e":2.8,"d":10},{"s":"Se-p","e":3.0,"d":11},{"s":"Se-p","e":3.2,"d":10},{"s":"Se-p","e":3.4,"d":11},{"s":"Se-p","e":3.6,"d":10},{"s":"Se-p","e":3.8,"d":11},{"s":"Se-p","e":4.0,"d":9},{"s":"Se-p","e":4.1,"d":5},{"s":"Se-p","e":4.2,"d":2},{"s":"Se-p","e":4.3,"d":0},{"s":"Se-p","e":6,"d":0},
{"s":"Bi-p","e":-7,"d":0},{"s":"Bi-p","e":-5.4,"d":0},{"s":"Bi-p","e":-5.2,"d":1},{"s":"Bi-p","e":-5.0,"d":4},{"s":"Bi-p","e":-4.9,"d":6},{"s":"Bi-p","e":-4.8,"d":8},{"s":"Bi-p","e":-4.7,"d":6},{"s":"Bi-p","e":-4.6,"d":4},{"s":"Bi-p","e":-4.5,"d":6},{"s":"Bi-p","e":-4.4,"d":8},{"s":"Bi-p","e":-4.3,"d":10},{"s":"Bi-p","e":-4.2,"d":11},{"s":"Bi-p","e":-4.1,"d":12},{"s":"Bi-p","e":-4.0,"d":12.5},{"s":"Bi-p","e":-3.8,"d":12.5},{"s":"Bi-p","e":-3.6,"d":12},{"s":"Bi-p","e":-3.4,"d":12},{"s":"Bi-p","e":-3.2,"d":11},{"s":"Bi-p","e":-3.0,"d":11},{"s":"Bi-p","e":-2.8,"d":10},{"s":"Bi-p","e":-2.6,"d":10},{"s":"Bi-p","e":-2.4,"d":9},{"s":"Bi-p","e":-2.2,"d":8.5},{"s":"Bi-p","e":-2.0,"d":8},{"s":"Bi-p","e":-1.8,"d":7},{"s":"Bi-p","e":-1.6,"d":6.5},{"s":"Bi-p","e":-1.4,"d":6},{"s":"Bi-p","e":-1.2,"d":5},{"s":"Bi-p","e":-1.0,"d":4},{"s":"Bi-p","e":-0.8,"d":3},{"s":"Bi-p","e":-0.6,"d":2},{"s":"Bi-p","e":-0.4,"d":1},{"s":"Bi-p","e":-0.2,"d":0.5},{"s":"Bi-p","e":0.1,"d":0.5},{"s":"Bi-p","e":0.4,"d":1},{"s":"Bi-p","e":0.7,"d":2},{"s":"Bi-p","e":0.9,"d":4},{"s":"Bi-p","e":1.1,"d":6},{"s":"Bi-p","e":1.3,"d":8},{"s":"Bi-p","e":1.5,"d":10},{"s":"Bi-p","e":1.7,"d":12},{"s":"Bi-p","e":1.8,"d":13},{"s":"Bi-p","e":1.9,"d":12},{"s":"Bi-p","e":2.0,"d":14},{"s":"Bi-p","e":2.1,"d":13},{"s":"Bi-p","e":2.2,"d":15},{"s":"Bi-p","e":2.3,"d":13},{"s":"Bi-p","e":2.4,"d":16},{"s":"Bi-p","e":2.5,"d":14},{"s":"Bi-p","e":2.6,"d":15},{"s":"Bi-p","e":2.7,"d":13},{"s":"Bi-p","e":2.8,"d":16},{"s":"Bi-p","e":2.9,"d":14},{"s":"Bi-p","e":3.0,"d":16},{"s":"Bi-p","e":3.1,"d":15},{"s":"Bi-p","e":3.2,"d":16},{"s":"Bi-p","e":3.3,"d":14},{"s":"Bi-p","e":3.4,"d":15},{"s":"Bi-p","e":3.5,"d":13},{"s":"Bi-p","e":3.6,"d":14},{"s":"Bi-p","e":3.7,"d":12},{"s":"Bi-p","e":3.8,"d":13},{"s":"Bi-p","e":3.9,"d":11},{"s":"Bi-p","e":4.0,"d":12},{"s":"Bi-p","e":4.1,"d":10},{"s":"Bi-p","e":4.2,"d":6},{"s":"Bi-p","e":4.3,"d":2},{"s":"Bi-p","e":4.4,"d":0},{"s":"Bi-p","e":6,"d":0},
{"s":"Bi-s","e":-7,"d":0},{"s":"Bi-s","e":-1.2,"d":0},{"s":"Bi-s","e":-1.0,"d":1},{"s":"Bi-s","e":-0.8,"d":2},{"s":"Bi-s","e":-0.6,"d":4},{"s":"Bi-s","e":-0.5,"d":5},{"s":"Bi-s","e":-0.4,"d":3},{"s":"Bi-s","e":-0.3,"d":1},{"s":"Bi-s","e":-0.2,"d":0},{"s":"Bi-s","e":6,"d":0},
{"s":"Gd-d","e":-7,"d":0},{"s":"Gd-d","e":-4.4,"d":0},{"s":"Gd-d","e":-4.2,"d":1},{"s":"Gd-d","e":-4.0,"d":2},{"s":"Gd-d","e":-3.8,"d":1},{"s":"Gd-d","e":-3.6,"d":0},{"s":"Gd-d","e":1.4,"d":0},{"s":"Gd-d","e":1.6,"d":0.5},{"s":"Gd-d","e":1.8,"d":0.5},{"s":"Gd-d","e":2.0,"d":1},{"s":"Gd-d","e":2.2,"d":1.5},{"s":"Gd-d","e":2.4,"d":1},{"s":"Gd-d","e":2.6,"d":1.5},{"s":"Gd-d","e":2.8,"d":2.5},{"s":"Gd-d","e":3.0,"d":3.5},{"s":"Gd-d","e":3.2,"d":2},{"s":"Gd-d","e":3.4,"d":3.5},{"s":"Gd-d","e":3.6,"d":3},{"s":"Gd-d","e":3.8,"d":2},{"s":"Gd-d","e":4.0,"d":1},{"s":"Gd-d","e":4.2,"d":0.5},{"s":"Gd-d","e":4.4,"d":0},{"s":"Gd-d","e":6,"d":0},
{"s":"Gd-f","e":-7,"d":0},{"s":"Gd-f","e":-4.7,"d":0},{"s":"Gd-f","e":-4.55,"d":3},{"s":"Gd-f","e":-4.45,"d":6},{"s":"Gd-f","e":-4.35,"d":10},{"s":"Gd-f","e":-4.2,"d":11},{"s":"Gd-f","e":-4.05,"d":10},{"s":"Gd-f","e":-3.9,"d":8},{"s":"Gd-f","e":-3.75,"d":5},{"s":"Gd-f","e":-3.65,"d":1},{"s":"Gd-f","e":-3.55,"d":0},{"s":"Gd-f","e":0.6,"d":0},{"s":"Gd-f","e":0.8,"d":2},{"s":"Gd-f","e":0.95,"d":6},{"s":"Gd-f","e":1.05,"d":10},{"s":"Gd-f","e":1.15,"d":8},{"s":"Gd-f","e":1.25,"d":10},{"s":"Gd-f","e":1.35,"d":9},{"s":"Gd-f","e":1.45,"d":5},{"s":"Gd-f","e":1.6,"d":1},{"s":"Gd-f","e":1.75,"d":0},{"s":"Gd-f","e":6,"d":0}
]
},
"vconcat":[
{"hconcat":[
 {"width":83,"height":190,"title":{"text":"(a)"},
  "layer":[
   {"data":{"name":"ba"},"mark":{"type":"line","color":"black","strokeWidth":1.2,"interpolate":"monotone","clip":true},
    "encoding":{"x":{"field":"k","type":"quantitative","scale":{"domain":[0,1],"nice":false,"zero":false},"axis":{"orient":"bottom","values":[0,0.45,0.675,0.955],"ticks":false,"labelPadding":5,"labelFont":"Liberation Serif","labelExpr":"datum.value==0?'Γ':datum.value<0.5?'K':datum.value<0.8?'M':'ΓA'","title":null}},
     "y":{"field":"e","type":"quantitative","scale":{"domain":[-1,1],"nice":false,"zero":false},"axis":{"orient":"left","values":[-1,-0.75,-0.5,-0.25,0,0.25,0.5,0.75,1],"labelExpr":"(datum.value*4)%2==0?replace(format(datum.value,'.1f'),'−','-'):''","tickSize":{"condition":{"test":"(datum.value*4)%2==0","value":-5},"value":-3},"labelPadding":9,"title":"Energy (eV)","titlePadding":6}},
     "detail":{"field":"b","type":"nominal"}}},
   {"data":{"values":[{"k":0.45},{"k":0.675},{"k":0.92}]},"mark":{"type":"rule","color":"black","strokeWidth":0.8},"encoding":{"x":{"field":"k","type":"quantitative","axis":null}}},
   {"data":{"values":[{"e":0}]},"mark":{"type":"rule","color":"black","strokeDash":[2,2],"strokeWidth":1},"encoding":{"y":{"field":"e","type":"quantitative","axis":null}}},
   {"data":{"values":[{"e":0}]},"mark":{"type":"point","opacity":0},"encoding":{"y":{"field":"e","type":"quantitative","axis":{"orient":"right","values":[-1,-0.75,-0.5,-0.25,0,0.25,0.5,0.75,1],"labels":false,"tickSize":{"condition":{"test":"(datum.value*4)%2==0","value":-5},"value":-3},"title":null}}}}
  ],
  "resolve":{"axis":{"x":"independent","y":"independent"}}},
 {"width":83,"height":190,"title":{"text":"(b)"},
  "layer":[
   {"data":{"name":"bb"},"mark":{"type":"line","color":"black","strokeWidth":1.2,"interpolate":"monotone","clip":true},
    "encoding":{"x":{"field":"k","type":"quantitative","scale":{"domain":[0,1],"nice":false,"zero":false},"axis":{"orient":"bottom","values":[0,0.45,0.675,0.955],"ticks":false,"labelPadding":5,"labelFont":"Liberation Serif","labelExpr":"datum.value==0?'Γ':datum.value<0.5?'K':datum.value<0.8?'M':'ΓA'","title":null}},
     "y":{"field":"e","type":"quantitative","scale":{"domain":[-1,1],"nice":false,"zero":false},"axis":{"orient":"left","values":[-1,-0.75,-0.5,-0.25,0,0.25,0.5,0.75,1],"labelExpr":"(datum.value*4)%2==0?replace(format(datum.value,'.1f'),'−','-'):''","tickSize":{"condition":{"test":"(datum.value*4)%2==0","value":-5},"value":-3},"labelPadding":9,"title":null}},
     "detail":{"field":"b","type":"nominal"}}},
   {"data":{"values":[{"k":0.45},{"k":0.675},{"k":0.92}]},"mark":{"type":"rule","color":"black","strokeWidth":0.8},"encoding":{"x":{"field":"k","type":"quantitative","axis":null}}},
   {"data":{"values":[{"e":0}]},"mark":{"type":"rule","color":"black","strokeDash":[2,2],"strokeWidth":1},"encoding":{"y":{"field":"e","type":"quantitative","axis":null}}},
   {"data":{"values":[{"e":0}]},"mark":{"type":"point","opacity":0},"encoding":{"y":{"field":"e","type":"quantitative","axis":{"orient":"right","values":[-1,-0.75,-0.5,-0.25,0,0.25,0.5,0.75,1],"labels":false,"tickSize":{"condition":{"test":"(datum.value*4)%2==0","value":-5},"value":-3},"title":null}}}}
  ],
  "resolve":{"axis":{"x":"independent","y":"independent"}}},
 {"width":83,"height":190,"title":{"text":"(c)"},
  "layer":[
   {"data":{"name":"bc"},"mark":{"type":"line","color":"black","strokeWidth":1.2,"interpolate":"monotone","clip":true},
    "encoding":{"x":{"field":"k","type":"quantitative","scale":{"domain":[0,1],"nice":false,"zero":false},"axis":{"orient":"bottom","values":[0,0.45,0.675,0.955],"ticks":false,"labelPadding":5,"labelFont":"Liberation Serif","labelExpr":"datum.value==0?'Γ':datum.value<0.5?'K':datum.value<0.8?'M':'ΓA'","title":null}},
     "y":{"field":"e","type":"quantitative","scale":{"domain":[-1,1],"nice":false,"zero":false},"axis":{"orient":"left","values":[-1,-0.75,-0.5,-0.25,0,0.25,0.5,0.75,1],"labelExpr":"(datum.value*4)%2==0?replace(format(datum.value,'.1f'),'−','-'):''","tickSize":{"condition":{"test":"(datum.value*4)%2==0","value":-5},"value":-3},"labelPadding":9,"title":null}},
     "detail":{"field":"b","type":"nominal"}}},
   {"data":{"values":[{"k":0.45},{"k":0.675},{"k":0.92}]},"mark":{"type":"rule","color":"black","strokeWidth":0.8},"encoding":{"x":{"field":"k","type":"quantitative","axis":null}}},
   {"data":{"values":[{"e":0}]},"mark":{"type":"rule","color":"black","strokeDash":[2,2],"strokeWidth":1},"encoding":{"y":{"field":"e","type":"quantitative","axis":null}}},
   {"data":{"values":[{"e":0}]},"mark":{"type":"point","opacity":0},"encoding":{"y":{"field":"e","type":"quantitative","axis":{"orient":"right","values":[-1,-0.75,-0.5,-0.25,0,0.25,0.5,0.75,1],"labels":false,"tickSize":{"condition":{"test":"(datum.value*4)%2==0","value":-5},"value":-3},"title":null}}}}
  ],
  "resolve":{"axis":{"x":"independent","y":"independent"}}}
],"spacing":28,"bounds":"flush"},
{"hconcat":[
 {"width":83,"height":189,"title":{"text":"(d)"},
  "layer":[
   {"data":{"name":"dd"},"mark":{"type":"line","strokeWidth":1.2,"clip":false},
    "encoding":{"x":{"field":"d","type":"quantitative","scale":{"domain":[0,50],"nice":false},"axis":{"orient":"bottom","values":[0,10,20,30,40,50],"labelExpr":"datum.value%20==0?datum.label:''","tickSize":-4,"labelPadding":7,"title":null}},
     "y":{"field":"e","type":"quantitative","scale":{"domain":[-7,6],"nice":false,"zero":false},"axis":{"orient":"left","values":[-7,-6,-5,-4,-3,-2,-1,0,1,2,3,4,5,6],"labelExpr":"datum.value%2==0?replace(datum.label,'−','-'):''","tickSize":{"condition":{"test":"datum.value%2==0","value":-5},"value":-3},"labelPadding":8,"title":"Energy (eV)","titlePadding":16}},
     "order":{"field":"e","type":"quantitative"},
     "color":{"field":"s","type":"nominal","scale":{"domain":["Se-p","Bi-p","Bi-s"],"range":["#1c1ce6","#1c1ce6","#e8242a"]},"legend":{"legendX":38,"legendY":144,"rowPadding":1.5}},
     "strokeDash":{"field":"s","type":"nominal","scale":{"domain":["Se-p","Bi-p","Bi-s"],"range":[[3,2],[1,0],[1,0]]},"legend":{"legendX":38,"legendY":144,"rowPadding":1.5}}}},
   {"data":{"values":[{"e":0}]},"mark":{"type":"rule","color":"black","strokeDash":[2,2],"strokeWidth":1},"encoding":{"y":{"field":"e","type":"quantitative","axis":null}}},
   {"data":{"values":[{"e":0,"d":0}]},"mark":{"type":"point","opacity":0},"encoding":{"y":{"field":"e","type":"quantitative","axis":{"orient":"right","values":[-7,-6,-5,-4,-3,-2,-1,0,1,2,3,4,5,6],"labels":false,"tickSize":{"condition":{"test":"datum.value%2==0","value":-5},"value":-3},"title":null}},"x":{"field":"d","type":"quantitative","axis":{"orient":"top","values":[0,10,20,30,40,50],"labels":false,"tickSize":-4,"title":null}}}}
  ],
  "resolve":{"axis":{"x":"independent","y":"independent"}}},
 {"width":83,"height":189,"title":{"text":"(e)"},
  "layer":[
   {"data":{"name":"de"},"mark":{"type":"line","strokeWidth":1.2,"clip":false},
    "encoding":{"x":{"field":"d","type":"quantitative","scale":{"domain":[0,50],"nice":false},"axis":{"orient":"bottom","values":[0,10,20,30,40,50],"labelExpr":"datum.value%20==0?datum.label:''","tickSize":-4,"labelPadding":7,"title":"Density of States","titleFontSize":13.5,"titlePadding":16}},
     "y":{"field":"e","type":"quantitative","scale":{"domain":[-7,6],"nice":false,"zero":false},"axis":{"orient":"left","values":[-7,-6,-5,-4,-3,-2,-1,0,1,2,3,4,5,6],"labelExpr":"datum.value%2==0?replace(datum.label,'−','-'):''","tickSize":{"condition":{"test":"datum.value%2==0","value":-5},"value":-3},"labelPadding":8,"title":null}},
     "order":{"field":"e","type":"quantitative"},
     "color":{"field":"s","type":"nominal","scale":{"domain":["Se-p","Bi-p","Bi-s","Eu-f"],"range":["#1c1ce6","#1c1ce6","#e8242a","#f4a040"]},"legend":{"legendX":40,"legendY":138,"rowPadding":0.5}},
     "strokeDash":{"field":"s","type":"nominal","scale":{"domain":["Se-p","Bi-p","Bi-s","Eu-f"],"range":[[3,2],[1,0],[1,0],[1,0]]},"legend":{"legendX":40,"legendY":138,"rowPadding":0.5}}}},
   {"data":{"values":[{"e":0}]},"mark":{"type":"rule","color":"black","strokeDash":[2,2],"strokeWidth":1},"encoding":{"y":{"field":"e","type":"quantitative","axis":null}}},
   {"data":{"values":[{"e":0,"d":0}]},"mark":{"type":"point","opacity":0},"encoding":{"y":{"field":"e","type":"quantitative","axis":{"orient":"right","values":[-7,-6,-5,-4,-3,-2,-1,0,1,2,3,4,5,6],"labels":false,"tickSize":{"condition":{"test":"datum.value%2==0","value":-5},"value":-3},"title":null}},"x":{"field":"d","type":"quantitative","axis":{"orient":"top","values":[0,10,20,30,40,50],"labels":false,"tickSize":-4,"title":null}}}}
  ],
  "resolve":{"axis":{"x":"independent","y":"independent"}}},
 {"width":83,"height":189,"title":{"text":"(f)"},
  "layer":[
   {"data":{"name":"df"},"mark":{"type":"line","strokeWidth":1.2,"clip":false},
    "encoding":{"x":{"field":"d","type":"quantitative","scale":{"domain":[0,50],"nice":false},"axis":{"orient":"bottom","values":[0,10,20,30,40,50],"labelExpr":"datum.value%20==0?datum.label:''","tickSize":-4,"labelPadding":7,"title":null}},
     "y":{"field":"e","type":"quantitative","scale":{"domain":[-7,6],"nice":false,"zero":false},"axis":{"orient":"left","values":[-7,-6,-5,-4,-3,-2,-1,0,1,2,3,4,5,6],"labelExpr":"datum.value%2==0?replace(datum.label,'−','-'):''","tickSize":{"condition":{"test":"datum.value%2==0","value":-5},"value":-3},"labelPadding":8,"title":null}},
     "order":{"field":"e","type":"quantitative"},
     "color":{"field":"s","type":"nominal","scale":{"domain":["Se-p","Bi-p","Bi-s","Gd-d","Gd-f"],"range":["#1c1ce6","#1c1ce6","#e8242a","#3ad83a","#f4a040"]},"legend":{"legendX":37,"legendY":128,"rowPadding":1}},
     "strokeDash":{"field":"s","type":"nominal","scale":{"domain":["Se-p","Bi-p","Bi-s","Gd-d","Gd-f"],"range":[[3,2],[1,0],[1,0],[1,0],[1,0]]},"legend":{"legendX":37,"legendY":128,"rowPadding":1}}}},
   {"data":{"values":[{"e":0}]},"mark":{"type":"rule","color":"black","strokeDash":[2,2],"strokeWidth":1},"encoding":{"y":{"field":"e","type":"quantitative","axis":null}}},
   {"data":{"values":[{"e":0,"d":0}]},"mark":{"type":"point","opacity":0},"encoding":{"y":{"field":"e","type":"quantitative","axis":{"orient":"right","values":[-7,-6,-5,-4,-3,-2,-1,0,1,2,3,4,5,6],"labels":false,"tickSize":{"condition":{"test":"datum.value%2==0","value":-5},"value":-3},"title":null}},"x":{"field":"d","type":"quantitative","axis":{"orient":"top","values":[0,10,20,30,40,50],"labels":false,"tickSize":-4,"title":null}}}}
  ],
  "resolve":{"axis":{"x":"independent","y":"independent"}}}
],"spacing":28,"bounds":"flush","resolve":{"scale":{"color":"independent","strokeDash":"independent"}}}
],
"spacing":11
}
